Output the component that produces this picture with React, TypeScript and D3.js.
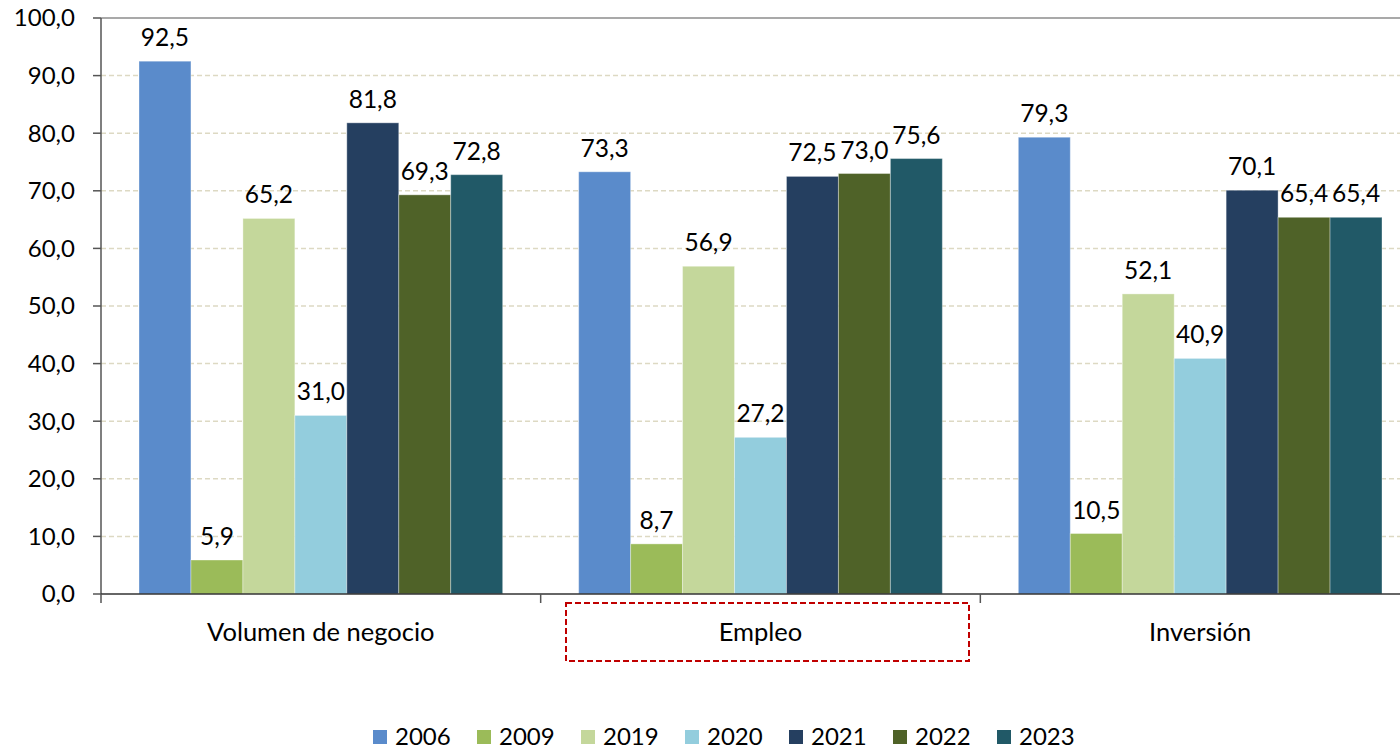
import React from "react";
import * as d3 from "d3";

// Values
const categories = ["Volumen de negocio", "Empleo", "Inversión"];
const years = ["2006", "2009", "2019", "2020", "2021", "2022", "2023"];
const colors = ["#5A8BCB", "#9BBB59", "#C4D79B", "#93CDDD", "#253F60", "#4F6228", "#215967"];

const v2006 = [92.5, 73.3, 79.3];
const v2009 = [5.9, 8.7, 10.5];
const v2019 = [65.2, 56.9, 52.1];
const v2020 = [31.0, 27.2, 40.9];
const v2021 = [81.8, 72.5, 70.1];
const v2022 = [69.3, 73.0, 65.4];
const v2023 = [72.8, 75.6, 65.4];
const series = [v2006, v2009, v2019, v2020, v2021, v2022, v2023];

const yTicks = [0, 10, 20, 30, 40, 50, 60, 70, 80, 90, 100];

const width = 1400;
const height = 750;
const margin = { top: 18, right: -20, bottom: 156, left: 101 };
const font = "Lato, 'Open Sans', sans-serif";

const fmt = (v: number) => v.toFixed(1).replace(".", ",");

export default function App() {
  const xScale = d3
    .scaleBand<string>()
    .domain(categories)
    .range([margin.left, width - margin.right])
    .paddingInner(0)
    .paddingOuter(0);

  const inner = d3
    .scaleBand<string>()
    .domain(years)
    .range([38, xScale.bandwidth() - 38])
    .padding(0);

  const yScale = d3
    .scaleLinear()
    .domain([0, 100])
    .range([height - margin.bottom, margin.top]);

  const y0 = yScale(0);
  const bandTicks = [0, 1, 2, 3].map((i) => margin.left + i * xScale.bandwidth());

  // legend layout
  const legendY = 737;
  const legendStart = 373;
  const legendStep = 104;

  return (
    <svg
      width={width}
      height={height}
      style={{ position: "absolute", left: 0, top: 0, background: "#fff" }}
    >
      {/* gridlines */}
      {yTicks.slice(1, -1).map((t) => (
        <line
          key={"g" + t}
          x1={margin.left}
          x2={width}
          y1={yScale(t)}
          y2={yScale(t)}
          stroke="#DDD9C3"
          strokeWidth={1.5}
          strokeDasharray="5,3"
        />
      ))}
      <line
        x1={margin.left}
        x2={width}
        y1={yScale(100)}
        y2={yScale(100)}
        stroke="#8C8C8C"
        strokeWidth={1.5}
      />

      {/* bars */}
      {series.map((vals, si) =>
        vals.map((v, ci) => {
          const x = xScale(categories[ci])! + inner(years[si])!;
          return (
            <rect
              key={"b" + si + "-" + ci}
              x={x}
              y={yScale(v)}
              width={inner.bandwidth()}
              height={y0 - yScale(v)}
              fill={colors[si]}
              stroke="#ffffff"
              strokeOpacity={0.35}
              strokeWidth={1}
            />
          );
        })
      )}

      {/* data labels */}
      {series.map((vals, si) =>
        vals.map((v, ci) => {
          const x = xScale(categories[ci])! + inner(years[si])! + inner.bandwidth() / 2;
          return (
            <text
              key={"l" + si + "-" + ci}
              x={x}
              y={yScale(v) - 15}
              textAnchor="middle"
              fontFamily={font}
              fontSize={24.5}
              fill="#000"
            >
              {fmt(v)}
            </text>
          );
        })
      )}

      {/* y axis */}
      <line x1={margin.left} x2={margin.left} y1={yScale(100)} y2={y0} stroke="#555" strokeWidth={1.5} />
      {yTicks.map((t) => (
        <g key={"t" + t}>
          <line x1={margin.left - 8} x2={margin.left} y1={yScale(t)} y2={yScale(t)} stroke="#555" strokeWidth={1.5} />
          <text
            x={margin.left - 26}
            y={yScale(t)}
            dy="0.35em"
            textAnchor="end"
            fontFamily={font}
            fontSize={24}
            fill="#000"
          >
            {fmt(t)}
          </text>
        </g>
      ))}

      {/* x axis */}
      <line x1={margin.left} x2={width} y1={y0} y2={y0} stroke="#333" strokeWidth={1.5} />
      {bandTicks.map((x, i) => (
        <line key={"xt" + i} x1={x} x2={x} y1={y0} y2={y0 + 9} stroke="#555" strokeWidth={1.5} />
      ))}
      {categories.map((c) => (
        <text
          key={"c" + c}
          x={xScale(c)! + xScale.bandwidth() / 2}
          y={632}
          dy="0.35em"
          textAnchor="middle"
          fontFamily={font}
          fontSize={25.5}
          fill="#000"
        >
          {c}
        </text>
      ))}

      {/* highlight box around Empleo */}
      <rect
        x={566}
        y={603}
        width={403}
        height={58}
        fill="none"
        stroke="#C00000"
        strokeWidth={2}
        strokeDasharray="6,3"
      />

      {/* legend */}
      {years.map((yr, i) => (
        <g key={"lg" + yr} transform={`translate(${legendStart + i * legendStep},${legendY})`}>
          <rect x={0} y={-7} width={14} height={14} fill={colors[i]} />
          <text x={22} y={0} dy="0.35em" fontFamily={font} fontSize={24} fill="#000">
            {yr}
          </text>
        </g>
      ))}
    </svg>
  );
}
